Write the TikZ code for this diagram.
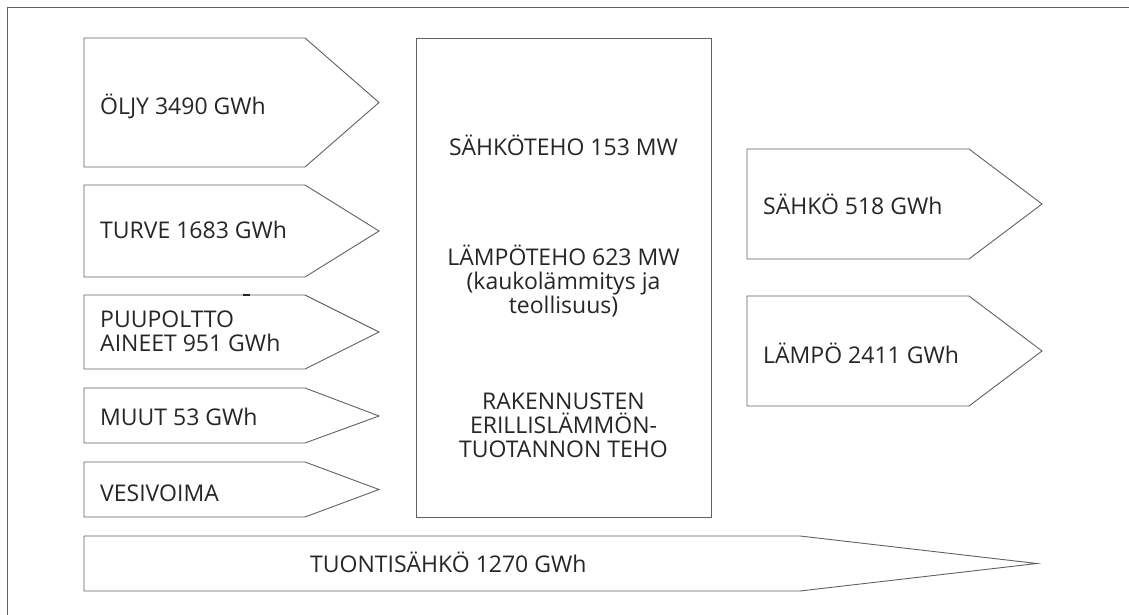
\documentclass[tikz,border=0pt]{standalone}
\usepackage{fontspec}
\setmainfont{Open Sans}
\begin{document}
\begin{tikzpicture}[x=1pt, y=-1pt, line join=miter]
\colorlet{edgeG}{black!62}
\colorlet{inkG}{black!85}
\tikzset{
  flowbox/.style={draw=edgeG, line width=0.9pt, fill=white},
  flowlabel/.style={font=\fontsize{23}{24}\selectfont, text=inkG,
    inner sep=0pt, anchor=base west, align=left},
  plantlabel/.style={font=\fontsize{23}{23.8}\selectfont, text=inkG,
    inner sep=0pt, anchor=base, align=center}
}
\useasboundingbox (0,0) rectangle (1129,615);
% ---- outer frame (open to the right and below) ----
\draw[edgeG, line width=1pt] (7,615) -- (7,8) -- (1129,8);
% ---- fuel inputs ----
\draw[flowbox] (84,38) -- (305,38) -- (379,102.5) -- (305,167) -- (84,167) -- cycle;
\node[flowlabel] (oil) at (100,114) {ÖLJY 3490 GWh};
\draw[flowbox] (84,185) -- (305,185) -- (379,231) -- (305,277) -- (84,277) -- cycle;
\node[flowlabel] (peat) at (100,238) {TURVE 1683 GWh};
\draw[flowbox] (84,295) -- (305,295) -- (379,332) -- (305,369) -- (84,369) -- cycle;
\draw[inkG, line width=1.6pt] (243,295) -- (250,295);
% base of a two-line label = its last line
\node[flowlabel] (wood) at (100,351) {PUUPOLTTO\\AINEET 951 GWh};
\draw[flowbox] (84,388) -- (305,388) -- (379,416) -- (305,443) -- (84,443) -- cycle;
\node[flowlabel] (other) at (100,425) {MUUT 53 GWh};
\draw[flowbox] (84,462) -- (305,462) -- (379,489.5) -- (305,517) -- (84,517) -- cycle;
\node[flowlabel] (hydro) at (100,501) {VESIVOIMA};
% ---- imported electricity ----
\draw[flowbox] (84,536) -- (800,536) -- (1037,563.5) -- (800,591) -- (84,591) -- cycle;
\node[flowlabel] (import) at (310,572) {TUONTISÄHKÖ 1270 GWh};
% ---- power plants ----
\draw[flowbox] (416,38) rectangle (711,517);
\node[plantlabel] (elpower) at (563.5,155) {SÄHKÖTEHO 153 MW};
\node[plantlabel] (heatpower) at (563.5,313) {LÄMPÖTEHO 623 MW\\(kaukolämmitys ja\\teollisuus)};
\node[plantlabel] (separate) at (563.5,457) {RAKENNUSTEN\\ERILLISLÄMMÖN-\\TUOTANNON TEHO};
% ---- outputs ----
\draw[flowbox] (747,149) -- (969,149) -- (1042,204) -- (969,259) -- (747,259) -- cycle;
\node[flowlabel] (elec) at (763,214) {SÄHKÖ 518 GWh};
\draw[flowbox] (747,296) -- (969,296) -- (1042,351) -- (969,406) -- (747,406) -- cycle;
\node[flowlabel] (heat) at (763,363) {LÄMPÖ 2411 GWh};
\end{tikzpicture}
\end{document}
